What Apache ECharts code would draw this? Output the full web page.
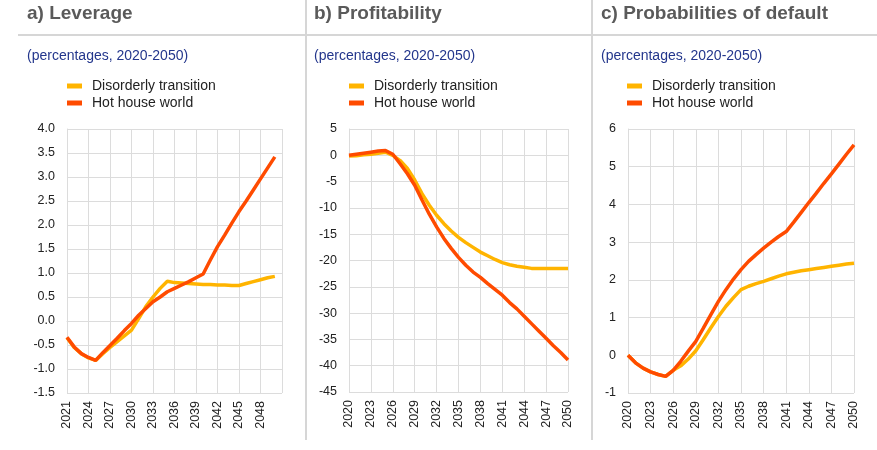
<!DOCTYPE html>
<html>
<head>
<meta charset="utf-8">
<title></title>
<script src="https://cdn.jsdelivr.net/npm/echarts@6/dist/echarts.min.js"></script>
<style>
  html, body { margin: 0; padding: 0; background: #fff; }
  #main { width: 877px; height: 450px; }
</style>
</head>
<body>
<div id="main"></div>
<script type="text/javascript">
    // years
    var yearsA = [2021,2022,2023,2024,2025,2026,2027,2028,2029,2030,2031,2032,2033,2034,2035,
                  2036,2037,2038,2039,2040,2041,2042,2043,2044,2045,2046,2047,2048,2049,2050];
    var yearsBC = [2020].concat(yearsA);

    // a) Leverage
    var levDisorderly = [-0.35,-0.55,-0.68,-0.77,-0.82,-0.68,-0.55,-0.43,-0.31,-0.19,0.05,0.3,0.5,0.68,0.83,
                         0.8,0.79,0.78,0.77,0.76,0.76,0.75,0.75,0.74,0.74,0.78,0.82,0.86,0.9,0.93];
    var levHothouse = [-0.34,-0.54,-0.68,-0.76,-0.82,-0.66,-0.51,-0.36,-0.2,-0.05,0.12,0.26,0.4,0.5,0.61,
                       0.68,0.75,0.82,0.9,0.98,1.27,1.55,1.79,2.04,2.28,2.5,2.73,2.96,3.19,3.42];

    // b) Profitability
    var profDisorderly = [-0.15,-0.1,0.1,0.2,0.4,0.6,0,-1,-2.5,-4.7,-7.3,-9.5,-11.4,-13,-14.4,-15.6,
                          -16.6,-17.5,-18.4,-19.1,-19.8,-20.4,-20.8,-21.1,-21.3,-21.5,-21.5,-21.5,-21.5,-21.5,-21.5];
    var profHothouse = [0,0.2,0.4,0.6,0.8,0.9,0.2,-1.6,-3.5,-5.7,-8.5,-11.2,-13.6,-15.8,-17.7,-19.4,
                        -20.9,-22.2,-23.2,-24.4,-25.5,-26.6,-28,-29.2,-30.6,-32,-33.4,-34.8,-36.2,-37.5,-38.9];

    // c) Probabilities of default
    var pdDisorderly = [0,-0.2,-0.34,-0.44,-0.51,-0.56,-0.4,-0.28,-0.1,0.12,0.42,0.73,1.03,1.3,1.53,1.74,
                        1.83,1.9,1.96,2.03,2.1,2.16,2.2,2.24,2.27,2.3,2.33,2.36,2.39,2.42,2.44];
    var pdHothouse = [0,-0.2,-0.34,-0.44,-0.51,-0.56,-0.4,-0.16,0.11,0.37,0.72,1.08,1.43,1.74,2.02,2.27,
                      2.49,2.67,2.84,3.0,3.15,3.28,3.53,3.79,4.05,4.3,4.56,4.81,5.07,5.33,5.58];

    var names = ['Disorderly transition', 'Hot house world'];
    var colors = ['#FFB400', '#FF4B00'];

    function pairs(xs, ys) {
        return xs.map(function (x, i) { return [x, ys[i]]; });
    }

    var gridColor = '#dcdcdc';
    var fontFam = '"Liberation Sans", Arial, sans-serif';

    function xAxisFor(idx, min, max) {
        return {
            type: 'value', gridIndex: idx, min: min, max: max, interval: 3,
            axisLine: { show: true, lineStyle: { color: gridColor } },
            axisTick: { show: false },
            splitLine: { show: true, lineStyle: { color: gridColor, width: 1 } },
            axisLabel: {
                rotate: 90, fontSize: 12.5, color: '#222', fontFamily: fontFam, margin: 8,
                showMaxLabel: max === 2050, showMinLabel: true,
                formatter: function (v) { return String(v); }
            }
        };
    }

    function yAxisFor(idx, min, max, interval, digits) {
        return {
            type: 'value', gridIndex: idx, min: min, max: max, interval: interval,
            axisLine: { show: true, lineStyle: { color: gridColor } },
            axisTick: { show: false },
            splitLine: { show: true, lineStyle: { color: gridColor, width: 1 } },
            axisLabel: {
                fontSize: 12.5, color: '#222', fontFamily: fontFam, margin: 12,
                formatter: function (v) { return v.toFixed(digits); }
            }
        };
    }

    function lineSeries(name, idx, data, color) {
        return {
            name: name, type: 'line', xAxisIndex: idx, yAxisIndex: idx,
            data: data, showSymbol: false, symbol: 'none',
            lineStyle: { color: color, width: 3.5 },
            itemStyle: { color: color },
            animation: false
        };
    }

    var panelTitles = ['a) Leverage', 'b) Profitability', 'c) Probabilities of default'];
    var titleLeft = [27, 314, 601];

    var chart = echarts.init(document.getElementById('main'));

    var option = {
        backgroundColor: '#fff',
        animation: false,
        title: panelTitles.map(function (t, i) {
            return {
                text: t, left: titleLeft[i], top: 4, padding: 0,
                textStyle: { fontSize: 19, fontWeight: 'bold', color: '#5a5a5a', fontFamily: fontFam },
                subtext: '(percentages, 2020-2050)',
                subtextStyle: { fontSize: 14, color: '#23368c', fontFamily: fontFam },
                itemGap: 26
            };
        }),
        legend: [62, 344, 622].map(function (l) {
            return {
                left: l, top: 74, orient: 'vertical', itemGap: 3,
                icon: 'rect', itemWidth: 15, itemHeight: 5,
                data: names,
                selectedMode: false,
                textStyle: { fontSize: 14, color: '#222', fontFamily: fontFam, padding: [0, 0, 0, 5] }
            };
        }),
        graphic: [
            { type: 'line', shape: { x1: 18, y1: 35, x2: 877, y2: 35 }, style: { stroke: '#d6d6d6', lineWidth: 2 } },
            { type: 'line', shape: { x1: 306, y1: 0, x2: 306, y2: 440 }, style: { stroke: '#d6d6d6', lineWidth: 2 } },
            { type: 'line', shape: { x1: 592, y1: 0, x2: 592, y2: 440 }, style: { stroke: '#d6d6d6', lineWidth: 2 } }
        ],
        grid: [
            { left: 67, top: 129, width: 215, height: 264 },
            { left: 349, top: 129, width: 219, height: 263 },
            { left: 628, top: 129, width: 226, height: 264 }
        ],
        xAxis: [
            xAxisFor(0, 2021, 2051),
            xAxisFor(1, 2020, 2050),
            xAxisFor(2, 2020, 2050)
        ],
        yAxis: [
            yAxisFor(0, -1.5, 4, 0.5, 1),
            yAxisFor(1, -45, 5, 5, 0),
            yAxisFor(2, -1, 6, 1, 0)
        ],
        series: [
            lineSeries(names[0], 0, pairs(yearsA, levDisorderly), colors[0]),
            lineSeries(names[1], 0, pairs(yearsA, levHothouse), colors[1]),
            lineSeries(names[0], 1, pairs(yearsBC, profDisorderly), colors[0]),
            lineSeries(names[1], 1, pairs(yearsBC, profHothouse), colors[1]),
            lineSeries(names[0], 2, pairs(yearsBC, pdDisorderly), colors[0]),
            lineSeries(names[1], 2, pairs(yearsBC, pdHothouse), colors[1])
        ]
    };

    chart.setOption(option);
</script>
</body>
</html>
